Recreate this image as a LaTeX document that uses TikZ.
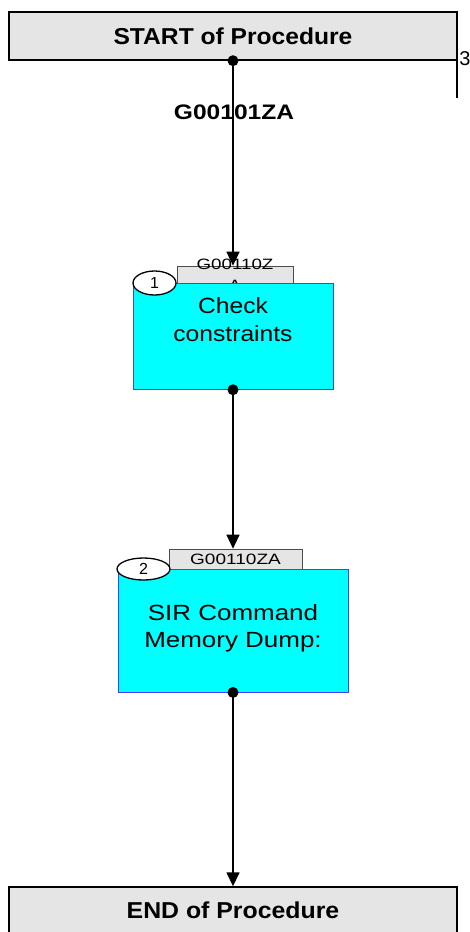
\documentclass[tikz,border=0pt]{standalone}
\usepackage{fontspec}
\setmainfont{Liberation Sans}
\usetikzlibrary{arrows.meta,shapes.geometric}
\definecolor{boxgray}{HTML}{E5E5E5}
\definecolor{stepcyan}{HTML}{00FFFF}
\definecolor{stepblue}{HTML}{4040FF}
\begin{document}
\begin{tikzpicture}[x=1pt,y=-1pt,
  endbox/.style={draw=black,line width=1.4pt,fill=boxgray,minimum width=448pt,minimum height=48pt,inner sep=0pt},
  stepbox/.style={draw=stepblue,line width=0.9pt,fill=stepcyan,inner sep=0pt},
  tabbox/.style={draw=black!70,line width=0.7pt,fill=boxgray,inner sep=0pt},
  numoval/.style={draw=black,line width=1.3pt,fill=white,ellipse,inner sep=0pt},
  conn/.style={line width=1.5pt,-{Triangle[width=13pt,length=14pt]}},
  dot/.style={circle,fill=black,inner sep=0pt,minimum size=11pt},
  bigtxt/.style={font=\fontsize{23}{27}\selectfont\bfseries},
  steptxt/.style={font=\fontsize{22}{26}\selectfont,align=center,inner sep=0pt},
  tabtxt/.style={font=\fontsize{15}{21}\selectfont,align=center,inner sep=0pt}
]
\clip (0,0) rectangle (470,932);
\fill[white] (0,0) rectangle (470,932);

% start / end
\node[endbox] (start) at (233,36) {};
\node[bigtxt] (starttxt) at (233,36) {\scalebox{1.07}[1]{START of Procedure}};
\node[endbox] (end) at (233,911) {};
\node[bigtxt] (endtxt) at (233,910) {\scalebox{1.08}[1]{END of Procedure}};

% right marker
\coordinate (mk1) at (457,22);
\coordinate (mk2) at (457,98);
\draw[line width=2.4pt] (mk1) -- (mk2);
\node[font=\fontsize{20}{20}\selectfont,inner sep=0pt] (three) at (465,59) {3};

% step 1
\node[tabbox,minimum width=116pt,minimum height=17pt] (tab1) at (235,274.5) {};
\node[tabtxt] (tab1txt) at (235,274.5) {\scalebox{1.25}[1]{G00110Z}\\\scalebox{1.25}[1]{A}};
\node[stepbox,minimum width=200pt,minimum height=106pt] (box1) at (233,336.3) {};
\node[steptxt] (box1txt) at (233,322) {\scalebox{1.12}[1]{\begin{tabular}{@{}c@{}}Check\\[2pt]constraints\end{tabular}}};
\node[numoval,minimum width=43pt,minimum height=24pt] (ov1) at (154.5,283) {};
\node[font=\fontsize{16}{16}\selectfont,inner sep=0pt] (ov1txt) at (154.5,283) {1};

% step 2
\node[tabbox,minimum width=133pt,minimum height=20pt] (tab2) at (235.5,559) {};
\node[tabtxt] (tab2txt) at (235.5,559) {\scalebox{1.27}[1]{G00110ZA}};
\node[stepbox,minimum width=230pt,minimum height=123pt] (box2) at (233,630.5) {};
\node[steptxt] (box2txt) at (233,629) {\scalebox{1.18}[1]{\begin{tabular}{@{}c@{}}SIR Command\\[1pt]Memory Dump:\end{tabular}}};
\node[numoval,minimum width=53pt,minimum height=22pt] (ov2) at (143.5,569) {};
\node[font=\fontsize{16}{16}\selectfont,inner sep=0pt] (ov2txt) at (143.5,569) {2};

% connectors
\draw[conn] (start.south) -- (start.south |- tab1.north);
\node[dot] (d0) at (start.south) {};
\node[font=\fontsize{21}{21}\selectfont\bfseries,inner sep=0pt] (lbl) at (234,112) {\scalebox{1.17}[1]{G00101ZA}};

\draw[conn] (box1.south) -- (box1.south |- tab2.north);
\node[dot] (d1) at (box1.south) {};

\draw[conn] (box2.south) -- (box2.south |- end.north);
\node[dot] (d2) at (box2.south) {};
\end{tikzpicture}
\end{document}
